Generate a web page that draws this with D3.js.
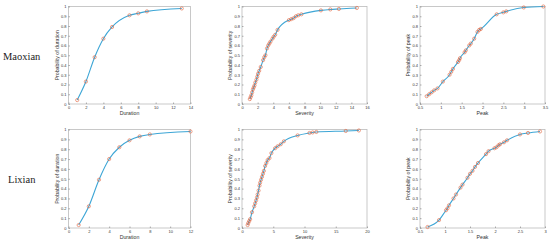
<!DOCTYPE html>
<html>
<head>
<meta charset="utf-8">
<script src="https://cdn.jsdelivr.net/npm/d3@7"></script>
<style>
  body { margin: 0; background: #fff; }
  svg { display: block; }
  .tick text { font-family: "Liberation Sans", Arial, sans-serif; font-size: 4px; fill: #333; }
  .tick line { stroke: #666; stroke-width: 0.5; }
  .frame { fill: none; stroke: #bbb; stroke-width: 0.8; }
  .title { font-family: "Liberation Sans", Arial, sans-serif; font-size: 5.2px; fill: #333; }
  .region { font-family: "Liberation Serif", "Times New Roman", serif; font-size: 10.5px; fill: #222; }
</style>
</head>
<body>
<svg id="chart" width="550" height="243"></svg>
<script>
var regions = ["Maoxian", "Lixian"];
var variables = ["Duration", "Severity", "Peak"];

var maoxianDuration = [[1,0.04],[2,0.23],[3,0.48],[4,0.67],[5,0.79],[7,0.91],[8,0.93],[9,0.95],[13,0.98]];
var lixianDuration = [[1,0.03],[2,0.22],[3,0.49],[4,0.70],[5,0.82],[6,0.89],[7,0.93],[8,0.95],[12,0.98]];

var maoxianSeverity = [[1.0,0.05],[1.1,0.07],[1.2,0.09],[1.3,0.12],[1.4,0.15],[1.5,0.17],[1.6,0.19],[1.7,0.22],
  [1.85,0.25],[1.95,0.28],[2.05,0.31],[2.2,0.34],[2.4,0.38],[2.7,0.45],[2.85,0.48],[3.0,0.5],
  [3.2,0.57],[3.35,0.6],[3.5,0.62],[3.65,0.64],[3.9,0.67],[4.05,0.69],[4.25,0.71],[4.55,0.76],
  [6.0,0.86],[6.3,0.87],[6.6,0.88],[6.9,0.9],[7.2,0.91],[7.6,0.92],[10.1,0.96],[11.3,0.97],[12.4,0.975],[14.7,0.985]];
var lixianSeverity = [[0.9,0.03],[1.0,0.05],[1.15,0.07],[1.3,0.09],[1.6,0.16],[1.95,0.22],[2.1,0.25],[2.25,0.28],[2.4,0.31],
  [2.5,0.34],[2.65,0.38],[2.8,0.43],[2.9,0.46],[3.05,0.49],[3.2,0.52],[3.35,0.55],[3.5,0.58],[3.7,0.63],[3.9,0.66],
  [4.1,0.69],[4.4,0.71],[4.7,0.76],[5.3,0.81],[5.7,0.83],[6.2,0.85],[6.7,0.88],[8.9,0.94],[10.8,0.965],[11.3,0.97],
  [11.9,0.975],[16.6,0.985],[18.7,0.99]];

var maoxianPeak = [[0.66,0.08],[0.72,0.1],[0.78,0.12],[0.84,0.14],[0.92,0.16],[1.05,0.23],[1.21,0.3],[1.25,0.33],
  [1.29,0.36],[1.41,0.43],[1.44,0.45],[1.46,0.47],[1.57,0.53],[1.6,0.55],[1.68,0.6],[1.72,0.62],[1.8,0.67],
  [1.88,0.74],[1.92,0.76],[1.96,0.77],[2.34,0.92],[2.5,0.94],[2.57,0.95],[2.99,0.99],[3.46,1.0]];
var lixianPeak = [[0.65,0.01],[0.88,0.08],[1.02,0.18],[1.05,0.2],[1.08,0.23],[1.17,0.3],[1.22,0.34],[1.31,0.41],
  [1.35,0.44],[1.45,0.51],[1.5,0.55],[1.55,0.58],[1.6,0.62],[1.66,0.66],[1.82,0.75],[1.87,0.78],[1.99,0.81],
  [2.03,0.82],[2.07,0.84],[2.1,0.85],[2.18,0.87],[2.24,0.89],[2.5,0.95],[2.66,0.965],[2.9,0.98]];

var xDomains = [[0, 14], [0, 16], [0.5, 3.5], [0, 12], [0, 20], [0.5, 3]];
var xTicks = [d3.range(0, 15, 2), d3.range(0, 17, 2), d3.range(0.5, 3.6, 0.5),
              d3.range(0, 13, 2), d3.range(0, 21, 5), d3.range(0.5, 3.1, 0.5)];
var yTicks = d3.range(0, 11).map(function (d) { return d / 10; });

var series = [maoxianDuration, maoxianSeverity, maoxianPeak, lixianDuration, lixianSeverity, lixianPeak];

// panel boxes in pixels
var colLeft = [68.5, 242, 420];
var colRight = [190.5, 367, 545];
var rowTop = [6.5, 129.5];
var rowBottom = [104, 228];

var svg = d3.select("#chart");

regions.forEach(function (r, i) {
  svg.append("text")
    .attr("class", "region")
    .attr("x", i === 0 ? 3 : 8)
    .attr("y", (rowTop[i] + rowBottom[i]) / 2 + 4.5)
    .text(r);
});

series.forEach(function (data, k) {
  var row = Math.floor(k / 3), col = k % 3;
  var x = d3.scaleLinear().domain(xDomains[k]).range([colLeft[col], colRight[col]]);
  var y = d3.scaleLinear().domain([0, 1]).range([rowBottom[row], rowTop[row]]);
  var g = svg.append("g");

  g.append("rect")
    .attr("class", "frame")
    .attr("x", colLeft[col]).attr("y", rowTop[row])
    .attr("width", colRight[col] - colLeft[col])
    .attr("height", rowBottom[row] - rowTop[row]);

  var fmt = function (d) { return d3.format("~g")(+d.toFixed(2)); };
  var xAxis = d3.axisBottom(x).tickValues(xTicks[k]).tickSize(-1.5).tickPadding(2.5).tickFormat(fmt);
  var yAxis = d3.axisLeft(y).tickValues(yTicks).tickSize(-1.5).tickPadding(2).tickFormat(fmt);

  g.append("g").attr("transform", "translate(0," + rowBottom[row] + ")").call(xAxis)
    .call(function (a) { a.select(".domain").remove(); });
  g.append("g").attr("transform", "translate(" + colLeft[col] + ",0)").call(yAxis)
    .call(function (a) { a.select(".domain").remove(); });

  g.append("text")
    .attr("class", "title")
    .attr("text-anchor", "middle")
    .attr("x", (colLeft[col] + colRight[col]) / 2)
    .attr("y", rowBottom[row] + 11)
    .text(variables[col]);

  g.append("text")
    .attr("class", "title")
    .attr("text-anchor", "middle")
    .attr("transform", "translate(" + (colLeft[col] - 9.8) + "," + ((rowTop[row] + rowBottom[row]) / 2) + ") rotate(-90)")
    .text("Probability of " + variables[col].toLowerCase());

  var line = d3.line()
    .x(function (d) { return x(d[0]); })
    .y(function (d) { return y(d[1]); })
    .curve(d3.curveMonotoneX);

  g.append("path")
    .datum(data)
    .attr("d", line)
    .attr("fill", "none")
    .attr("stroke", "#3da6d6")
    .attr("stroke-width", 1.1);

  g.selectAll("circle")
    .data(data)
    .enter().append("circle")
    .attr("cx", function (d) { return x(d[0]); })
    .attr("cy", function (d) { return y(d[1]); })
    .attr("r", 1.6)
    .attr("fill", "none")
    .attr("stroke", "#e0603a")
    .attr("stroke-width", 0.7)
    .attr("opacity", 0.85);
});
</script>
</body>
</html>
